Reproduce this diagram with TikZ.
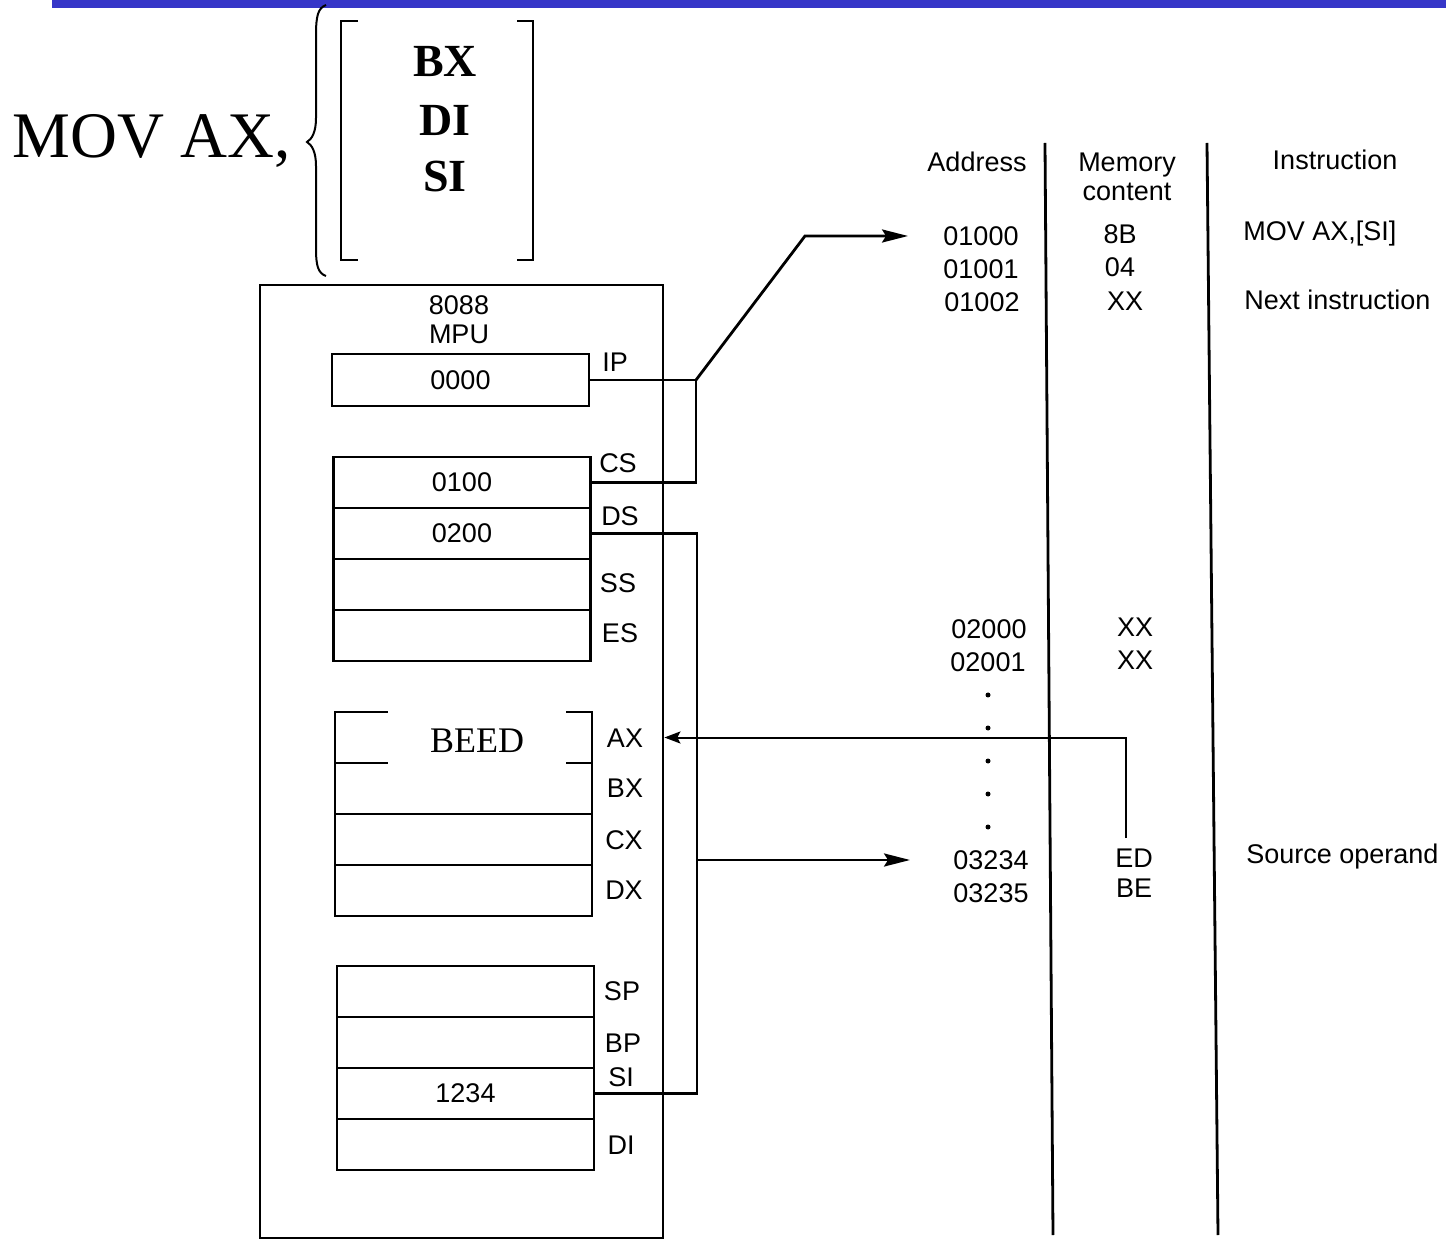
\documentclass[tikz,border=0pt]{standalone}
\usepackage{fontspec}
\setmainfont{Liberation Serif}
\setsansfont{Liberation Sans}
\usetikzlibrary{arrows.meta}
\definecolor{barblue}{RGB}{54,54,200}
\newcommand\dfont{\sffamily\fontsize{13.5}{14.5}\selectfont}
\begin{document}
\begin{tikzpicture}[x=0.5pt,y=-0.5pt,
  reg/.style={draw, line width=1.4pt, minimum width=128.5pt, minimum height=25.5pt, inner sep=0pt, font=\dfont},
  lbl/.style={inner sep=0pt, font=\dfont},
  conn/.style={line width=1.4pt},
  tip/.style={-{Stealth[length=13pt,width=6.5pt,inset=2pt]}},
  big/.style={inner sep=0pt, font=\bfseries\fontsize{23}{25}\selectfont},
  thinline/.style={line width=1pt}
]
\useasboundingbox (0,0) rectangle (1446,1240);
\fill[barblue] (52,0) rectangle (1446,8);

% instruction form
\node[anchor=base west, inner sep=0pt, font=\fontsize{32.5}{34}\selectfont] (mov) at (12,158) {MOV AX,};
\draw[thinline] (326,5) .. controls (318,8) and (316,16) .. (316,35) -- (316,118)
  .. controls (316,132) and (312,139) .. (307,142)
  .. controls (312,145) and (316,152) .. (316,166) -- (316,248)
  .. controls (316,266) and (318,273) .. (326,276);
\draw[thinline] (358,21) -- (341,21) -- (341,260) -- (358,260);
\draw[thinline] (517,21) -- (533,21) -- (533,260) -- (517,260);
\node[big] (tbx) at (445,62) {BX};
\node[big] (tdi) at (445,120) {DI};
\node[big] (tsi) at (445,177) {SI};

% MPU
\node[draw, line width=1.4pt, minimum width=201.5pt, minimum height=476.5pt, inner sep=0pt] (mpu) at (461.5,761.5) {};
\node[lbl, align=center] (title) at (459,320) {8088\\MPU};

\node[reg, minimum height=26pt] (ip) at (460.5,380) {0000};
\node[reg] (cs) at (462,482.5) {0100};
\node[reg] (ds) at (462,533.5) {0200};
\node[reg] (ss) at (462,584.5) {};
\node[reg] (es) at (462,635.5) {};
\node[reg] (ax) at (463.5,737.5) {};
\node[reg] (bx) at (463.5,788.5) {};
\node[reg] (cx) at (463.5,839.5) {};
\node[reg] (dx) at (463.5,890.5) {};
\node[reg] (sp) at (465.5,991.5) {};
\node[reg] (bp) at (465.5,1042.5) {};
\node[reg] (si) at (465.5,1093.5) {1234};
\node[reg] (di) at (465.5,1144.5) {};

\node[fill=white, minimum width=89pt, minimum height=33pt, inner sep=0pt, font=\rmfamily\fontsize{18}{20}\selectfont] (beed) at (477,741) {BEED};

\node[lbl] (lip) at (615,362) {IP};
\node[lbl] (lcs) at (618,463) {CS};
\node[lbl] (lds) at (620,516) {DS};
\node[lbl] (lss) at (618,583) {SS};
\node[lbl] (les) at (620,633) {ES};
\node[lbl] (lax) at (625,738) {AX};
\node[lbl] (lbx) at (625,788) {BX};
\node[lbl] (lcx) at (624,840) {CX};
\node[lbl] (ldx) at (624,890) {DX};
\node[lbl] (lsp) at (622,991) {SP};
\node[lbl] (lbp) at (623,1043) {BP};
\node[lbl] (lsi) at (621,1077) {SI};
\node[lbl] (ldi) at (621,1145) {DI};

% memory table
\draw[conn] (1045,143) -- (1053,1235);
\draw[conn] (1207,143) -- (1218,1235);
\node[lbl] (hadr) at (977,162) {Address};
\node[lbl, align=center] (hmem) at (1127,177) {Memory\\content};
\node[lbl] (hins) at (1335,160) {Instruction};
\node[lbl] (a1) at (981,236) {01000};
\node[lbl] (m1) at (1120,234) {8B};
\node[lbl, anchor=west] (i1) at (1243,234) {MOV AX,[SI]};
\node[lbl] (a2) at (981,269) {01001};
\node[lbl] (m2) at (1120,267) {04};
\node[lbl] (a3) at (982,302) {01002};
\node[lbl] (m3) at (1125,301) {XX};
\node[lbl, anchor=west] (i3) at (1244,300) {Next instruction};
\node[lbl] (a4) at (989,629) {02000};
\node[lbl] (m4) at (1135,627) {XX};
\node[lbl] (a4b) at (988,662) {02001};
\node[lbl] (m4b) at (1135,660) {XX};
\foreach \yy in {695,728,761,794,827} \fill (988,\yy) circle (2.5);
\node[lbl] (a5) at (991,860) {03234};
\node[lbl] (m5) at (1134,858) {ED};
\node[lbl, anchor=west] (i5) at (1246,857) {Source operand};
\node[lbl] (a6) at (991,893) {03235};
\node[lbl] (m6) at (1134,888) {BE};

% connectors
\coordinate (j1) at (696,380);
\coordinate (j2) at (805,236);
\draw[conn] (ip.east) -- (j1) -- (j1 |- cs.east) -- (cs.east);
\draw[conn, tip] (j1) -- (j2) -- ([xshift=-17.5pt]a1.west);
\coordinate (j3) at (697,533.5);
\draw[conn] (ds.east) -- (j3) -- (j3 |- si.east) -- (si.east);
\draw[conn, tip] (j3 |- a5.west) -- ([xshift=-21.5pt]a5.west);
\coordinate (edtop) at (1126,838);
\draw[thinline, -{Stealth[length=8pt,width=6pt,inset=1.5pt]}] (edtop) -- (edtop |- ax.east) -- (mpu.east |- ax.east);
\end{tikzpicture}
\end{document}
